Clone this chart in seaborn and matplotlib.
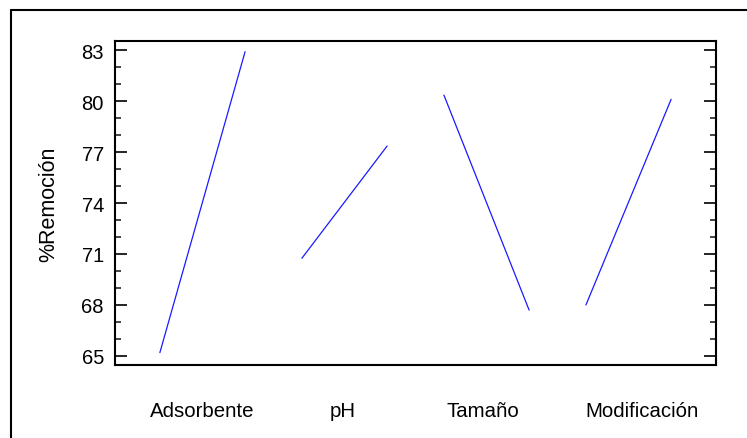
import matplotlib
matplotlib.use("Agg")
import matplotlib.pyplot as plt
from matplotlib.lines import Line2D
from matplotlib.ticker import MultipleLocator
import numpy as np
import pandas as pd
import seaborn as sns

# Main effects for %Remoción: mean response at the low and high level of each factor
factors = ["Adsorbente", "pH", "Tamaño", "Modificación"]
low_level = [65.2, 70.75, 80.35, 68.0]
high_level = [82.9, 77.35, 67.7, 80.1]
y_ticks = [65, 68, 71, 74, 77, 80, 83]

half_width = 0.3  # horizontal half-span of each factor's segment

rows = []
for i, f in enumerate(factors):
    rows.append({"factor": f, "x": i - half_width, "value": low_level[i]})
    rows.append({"factor": f, "x": i + half_width, "value": high_level[i]})
df = pd.DataFrame(rows)

sns.set_theme(style="white")
plt.rcParams["font.family"] = ["Liberation Sans", "DejaVu Sans"]

fig = plt.figure(figsize=(7.47, 4.39), dpi=100)
ax = fig.add_axes([115 / 747, 1 - 366 / 439, 601 / 747, 324 / 439])

sns.lineplot(data=df, x="x", y="value", units="factor", estimator=None,
             color="#1a1aff", linewidth=0.9, legend=False, ax=ax)

ax.set_xlim(-0.616, 3.616)
ax.set_ylim(64.47, 83.53)

ax.set_yticks(y_ticks)
ax.set_yticklabels([str(t) for t in y_ticks])
ax.yaxis.set_minor_locator(MultipleLocator(1))
ax.tick_params(axis="y", which="major", direction="in", length=8.6, width=1.2,
               left=True, right=True, labelsize=14.5, pad=8, colors="black")
ax.tick_params(axis="y", which="minor", direction="in", length=4.2, width=1.2,
               left=True, right=True)

label_pos = [0.0, 0.99, 1.975, 3.095]
ax.set_xticks(label_pos)
ax.set_xticklabels(factors)
ax.tick_params(axis="x", which="both", length=0, labelsize=14.7, pad=26,
               colors="black")

ax.set_xlabel("")
ax.set_ylabel("%Remoción", fontsize=15.5, color="black")
ax.yaxis.set_label_coords(-0.093, 0.5)

for s in ax.spines.values():
    s.set_visible(True)
    s.set_color("black")
    s.set_linewidth(1.5)

# outer frame around the chart (open on the right and bottom)
fig.add_artist(Line2D([10.5 / 747, 1.0], [1 - 11 / 439, 1 - 11 / 439],
                      transform=fig.transFigure, color="black", linewidth=1.5))
fig.add_artist(Line2D([10.5 / 747, 10.5 / 747], [0.0, 1 - 11 / 439],
                      transform=fig.transFigure, color="black", linewidth=1.5))

fig.savefig("out.png", dpi=100, facecolor="white")
